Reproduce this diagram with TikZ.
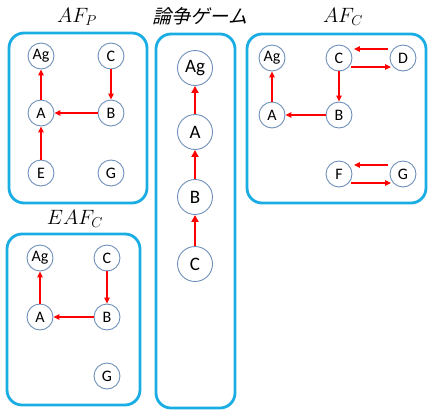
\documentclass[tikz,border=0pt]{standalone}
\usepackage{fontspec}
\setsansfont{Carlito}
\newfontfamily\jpfont[FakeSlant=0.25]{Noto Sans CJK JP}
\usetikzlibrary{arrows.meta}
\definecolor{boxblue}{HTML}{1AADE3}
\definecolor{nodeedge}{HTML}{6E8FBA}
\tikzset{
  panel/.style={draw=boxblue,line width=2.8pt,rounded corners=15pt},
  arg/.style={circle,draw=nodeedge,line width=0.9pt,minimum size=26pt,inner sep=0pt,font=\sffamily\fontsize{16}{16}\selectfont},
  bigarg/.style={circle,draw=nodeedge,line width=0.9pt,minimum size=35pt,inner sep=0pt,font=\sffamily\fontsize{19}{19}\selectfont},
  att/.style={color=red,line width=1.1pt,-{Triangle[length=6pt,width=5.5pt]}},
  bigatt/.style={color=red,line width=2.6pt,-{Triangle[length=7pt,width=7pt]}},
  ttl/.style={font=\fontsize{22}{22}\selectfont},
}
\begin{document}
\begin{tikzpicture}[x=1pt,y=-1pt]
\useasboundingbox (0,0) rectangle (428,410);
% panels
\draw[panel] (9,33) rectangle (147,203);
\draw[panel] (156,34) rectangle (235,408);
\draw[panel] (247,34) rectangle (426,203);
\draw[panel] (7,234) rectangle (140,405);
% titles
\node[ttl] (tP) at (77,17) {$AF_P$};
\node[font=\jpfont\fontsize{19}{19}\selectfont] (tG) at (200,16) {論争ゲーム};
\node[ttl] (tC) at (343,17) {$AF_C$};
\node[ttl] (tE) at (75,219) {$EAF_C$};
% AF_P
\node[arg] (p-ag) at (41,56) {Ag};
\node[arg] (p-c) at (111,56) {C};
\node[arg] (p-a) at (41,113) {A};
\node[arg] (p-b) at (111,113) {B};
\node[arg] (p-e) at (41,173) {E};
\node[arg] (p-g) at (111,173) {G};
\draw[att] (p-a) -- (p-ag);
\draw[att] (p-c) -- (p-b);
\draw[att] (p-b) -- (p-a);
\draw[att] (p-e) -- (p-a);
% game
\node[bigarg] (g-ag) at (195,68) {Ag};
\node[bigarg] (g-a) at (195,132) {A};
\node[bigarg] (g-b) at (195,197) {B};
\node[bigarg] (g-c) at (195,264) {C};
\draw[bigatt] (g-a) -- (g-ag);
\draw[bigatt] (g-b) -- (g-a);
\draw[bigatt] (g-c) -- (g-b);
% AF_C
\node[arg] (c-ag) at (272,58) {Ag};
\node[arg] (c-c) at (339,58) {C};
\node[arg] (c-d) at (403,58) {D};
\node[arg] (c-a) at (272,115) {A};
\node[arg] (c-b) at (339,115) {B};
\node[arg] (c-f) at (339,174) {F};
\node[arg] (c-g) at (403,174) {G};
\draw[att] (c-a) -- (c-ag);
\draw[att] (c-c) -- (c-b);
\draw[att] (c-b) -- (c-a);
\draw[att] ([yshift=9pt,xshift=-1.5pt]c-d.west) -- ([yshift=9pt,xshift=1.5pt]c-c.east);
\draw[att] ([yshift=-9pt,xshift=-1.5pt]c-c.east) -- ([yshift=-9pt,xshift=1.5pt]c-d.west);
\draw[att] ([yshift=9pt,xshift=-1.5pt]c-g.west) -- ([yshift=9pt,xshift=1.5pt]c-f.east);
\draw[att] ([yshift=-9pt,xshift=-1.5pt]c-f.east) -- ([yshift=-9pt,xshift=1.5pt]c-g.west);
% EAF_C
\node[arg] (e-ag) at (40,258) {Ag};
\node[arg] (e-c) at (107,258) {C};
\node[arg] (e-a) at (40,317) {A};
\node[arg] (e-b) at (107,317) {B};
\node[arg] (e-g) at (107,376) {G};
\draw[att] (e-a) -- (e-ag);
\draw[att] (e-c) -- (e-b);
\draw[att] (e-b) -- (e-a);
\end{tikzpicture}
\end{document}
